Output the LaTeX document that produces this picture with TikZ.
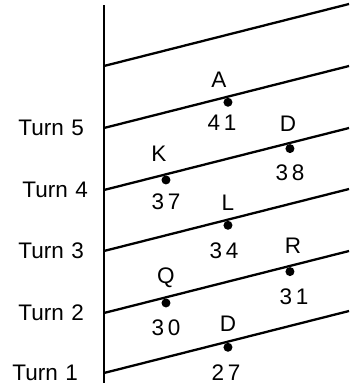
\documentclass[tikz,border=0pt]{standalone}
\usepackage{fontspec}
\setmainfont{Liberation Sans}
\usetikzlibrary{positioning}

\begin{document}
\begin{tikzpicture}[
  x=1pt, y=1pt,
  turnline/.style={line width=2.3pt},
  dot/.style={circle, fill=black, inner sep=0pt, minimum size=9pt, anchor=north},
  lab/.style={font=\fontsize{22.5}{26}\selectfont, inner sep=0pt, on grid},
  turn/.style={font=\fontsize{22.5}{26}\selectfont, inner sep=0pt}
]
  \useasboundingbox (0,0) rectangle (349,390);

  \coordinate (top) at (104,385);
  \coordinate (bot) at (104,7);
  \coordinate (s1) at (104,324); \coordinate (e1) at (349,386);
  \coordinate (s2) at (104,262); \coordinate (e2) at (349,324);
  \coordinate (s3) at (104,200); \coordinate (e3) at (349,262);
  \coordinate (s4) at (104,139); \coordinate (e4) at (349,201);
  \coordinate (s5) at (104,77);  \coordinate (e5) at (349,139);
  \coordinate (s6) at (104,17);  \coordinate (e6) at (349,79);

  \draw[turnline] (bot) -- (top);
  \draw[turnline] (s1) -- (e1);
  \draw[turnline] (s2) -- (e2) node[dot, pos=0.506] (pA) {};
  \draw[turnline] (s3) -- (e3) node[dot, pos=0.253] (pK) {}
                               node[dot, pos=0.759] (pD) {};
  \draw[turnline] (s4) -- (e4) node[dot, pos=0.506] (pL) {};
  \draw[turnline] (s5) -- (e5) node[dot, pos=0.253] (pQ) {}
                               node[dot, pos=0.759] (pR) {};
  \draw[turnline] (s6) -- (e6) node[dot, pos=0.506] (pD2) {};

  \node[turn, left=20pt of s2] (t5) {Turn\,\,5};
  \node[turn, left=16pt of s3] (t4) {Turn\,\,4};
  \node[turn, left=20pt of s4] (t3) {Turn\,\,3};
  \node[turn, left=20pt of s5] (t2) {Turn\,\,2};
  \node[turn, left=26pt of s6] (t1) {Turn\,\,1};

  \node[lab, above=23pt of pA, xshift=-9pt] (lA) {A};
  \node[lab, below=20pt of pA, xshift=-6pt] (nA) {4\,1};
  \node[lab, above=25pt of pD, xshift=-2pt] (lD) {D};
  \node[lab, below=24pt of pD] (nD) {3\,8};
  \node[lab, above=26pt of pK, xshift=-7pt] (lK) {K};
  \node[lab, below=22pt of pK] (nK) {3\,7};
  \node[lab, above=23pt of pL] (lL) {L};
  \node[lab, below=25pt of pL, xshift=-4pt] (nL) {3\,4};
  \node[lab, above=26pt of pR, xshift=3pt] (lR) {R};
  \node[lab, below=25pt of pR, xshift=4pt] (nR) {3\,1};
  \node[lab, above=25pt of pQ] (lQ) {Q};
  \node[lab, below=25pt of pQ] (nQ) {3\,0};
  \node[lab, above=24pt of pD2] (lD2) {D};
  \node[lab, below=25pt of pD2, xshift=-2pt] (nD2) {2\,7};
\end{tikzpicture}
\end{document}
